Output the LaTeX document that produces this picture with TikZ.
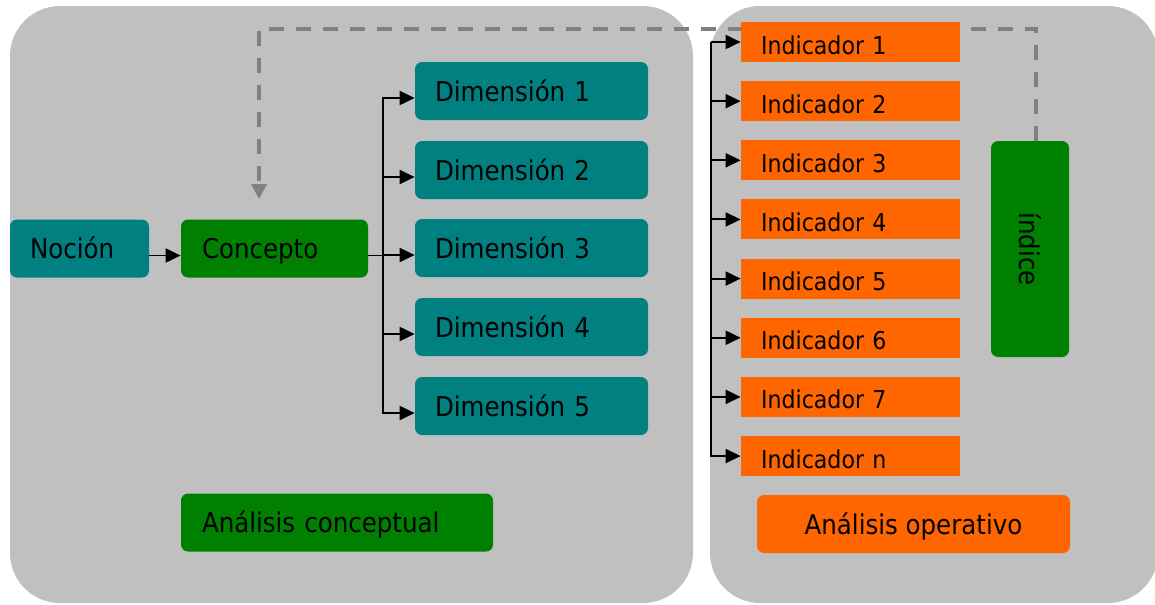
\documentclass[tikz,border=0pt]{standalone}
\usepackage{fontspec}
\setmainfont{DejaVu Sans Condensed}
\usetikzlibrary{arrows.meta,positioning,backgrounds}

\definecolor{panel}{RGB}{192,192,192}
\definecolor{azulverde}{RGB}{0,128,128}
\definecolor{verde}{RGB}{0,128,0}
\definecolor{naranja}{RGB}{255,102,0}
\definecolor{gris}{RGB}{128,128,128}

\tikzset{
    bloque/.style={rounded corners=4pt, minimum height=1.16cm, inner xsep=0.4cm,
        text height=0.4cm, text depth=0cm, font=\fontsize{15.5}{18}\selectfont},
    dimension/.style={bloque, fill=azulverde, align=left, text width=3.86cm},
    indicador/.style={fill=naranja, minimum height=0.8cm, inner xsep=0.4cm, align=left,
        text width=3.58cm, text height=0.48cm, text depth=0cm, font=\fontsize{14}{16}\selectfont},
    flecha/.style={line width=1.1pt, -{Triangle[width=2.8mm,length=3mm]}},
    retro/.style={gris, line width=2.3pt, dash pattern=on 3mm off 2.4mm,
        -{Triangle[width=3mm,length=3mm]}}
}

\begin{document}
\begin{tikzpicture}
    \useasboundingbox (0,0) rectangle (23.1,12.08);

    % conceptual side
    \node[bloque, fill=azulverde, align=left, text width=1.98cm] (nocion) at (1.59,7.11) {Noción};
    \node[bloque, fill=verde, align=left, inner xsep=0.42cm, text width=2.9cm] (concepto) at (5.49,7.11) {Concepto};
    \foreach \i/\y in {1/10.26, 2/8.68, 3/7.12, 4/5.54, 5/3.96}{
        \node[dimension] (dim\i) at (10.63,\y) {Dimensión \i};
    }
    \node[bloque, fill=verde, align=left, inner xsep=0.42cm, text width=5.4cm] (conceptual) at (6.74,1.63) {Análisis conceptual};

    % operative side
    \foreach \i/\t in {1/1, 2/2, 3/3, 4/4, 5/5, 6/6, 7/7, 8/n}{
        \node[indicador] (ind\i) at (17.01,{11.24-(\i-1)*1.183}) {Indicador \t};
    }
    \node[rounded corners=4pt, fill=verde, minimum width=1.56cm, minimum height=4.32cm,
        font=\fontsize{15.5}{18}\selectfont] (indice) at (20.6,7.1) {\rotatebox{-90}{índice}};
    \node[bloque, fill=naranja, minimum width=6.26cm, align=center] (operativo) at (18.27,1.6) {Análisis operativo};

    \coordinate (llegada) at (5.18,8.1);

    \begin{scope}[on background layer]
        \fill[panel, rounded corners=1cm] (0.2,0.02) rectangle (13.86,11.96);
        \fill[panel, rounded corners=1cm] (14.2,0.02) rectangle (23.16,11.96);
        \draw[retro] ([xshift=1.2mm]indice.north) |- ([yshift=3.4cm]llegada) -- (llegada);
    \end{scope}

    \draw[flecha] ([yshift=-1.4mm]nocion.east) -- ([yshift=-1.4mm]concepto.west);
    \foreach \i in {1,...,5}{
        \draw[flecha] ([yshift=-1.4mm]concepto.east) -- ++(0.3,0) |- ([yshift=-1.4mm]dim\i.west);
    }
    \foreach \i in {1,...,8}{
        \draw[flecha] ([xshift=-6mm]ind1.west) |- (ind\i.west);
    }
\end{tikzpicture}
\end{document}
